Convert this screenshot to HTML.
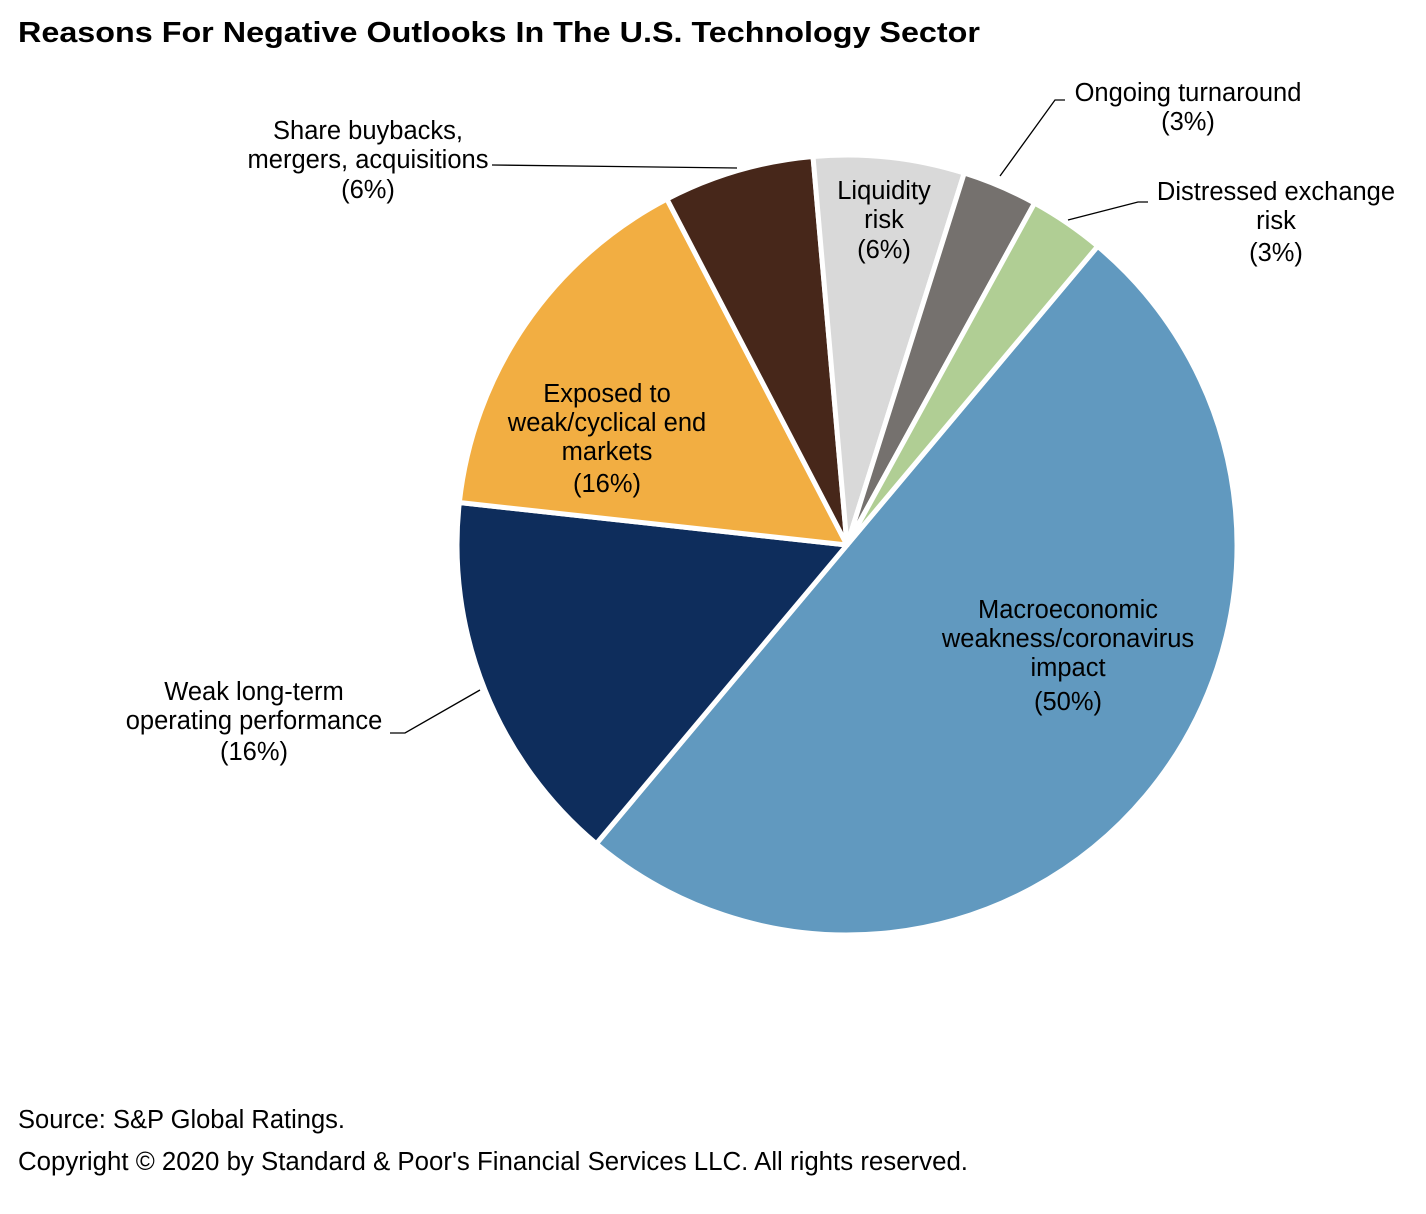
<!DOCTYPE html>
<html><head><meta charset="utf-8"><style>
html,body{margin:0;padding:0;background:#fff;}
svg{display:block;font-family:"Liberation Sans",Arial,sans-serif;}
</style></head><body>
<svg id="chart" width="1426" height="1214" viewBox="0 0 1426 1214">
<text x="18" y="42" font-size="29" font-weight="bold" textLength="962" lengthAdjust="spacingAndGlyphs">Reasons For Negative Outlooks In The U.S. Technology Sector</text>
<g id="slices"></g>
<g id="labels" font-size="25.5" text-anchor="middle" fill="#000">
<g><text x="368" y="139">Share buybacks,</text><text x="368" y="168">mergers, acquisitions</text><text x="368" y="198">(6%)</text></g>
<g><text x="884" y="199">Liquidity</text><text x="884" y="228">risk</text><text x="884" y="258">(6%)</text></g>
<g><text x="1188" y="101">Ongoing turnaround</text><text x="1188" y="130">(3%)</text></g>
<g><text x="1276" y="200">Distressed exchange</text><text x="1276" y="229">risk</text><text x="1276" y="261">(3%)</text></g>
<g><text x="607" y="402">Exposed to</text><text x="607" y="431">weak/cyclical end</text><text x="607" y="460">markets</text><text x="607" y="492">(16%)</text></g>
<g><text x="1068" y="618">Macroeconomic</text><text x="1068" y="647">weakness/coronavirus</text><text x="1068" y="676">impact</text><text x="1068" y="710">(50%)</text></g>
<g><text x="254" y="700">Weak long-term</text><text x="254" y="729">operating performance</text><text x="254" y="760">(16%)</text></g>
</g>
<g stroke="#000" stroke-width="1.3" fill="none">
<polyline points="492,165 737,168"/>
<polyline points="1065,100 1055,100 1000,176"/>
<polyline points="1148,202 1138,202 1068,220"/>
<polyline points="390,733 405,733 480,690"/>
</g>
<text x="18" y="1128" font-size="25.5">Source: S&amp;P Global Ratings.</text>
<text x="18" y="1170" font-size="25.5" textLength="950" lengthAdjust="spacingAndGlyphs">Copyright © 2020 by Standard &amp; Poor's Financial Services LLC. All rights reserved.</text>
</svg>
<script>
const categories = ["Macroeconomic weakness/coronavirus impact","Weak long-term operating performance","Exposed to weak/cyclical end markets","Share buybacks, mergers, acquisitions","Liquidity risk","Ongoing turnaround","Distressed exchange risk"];
const values = [50, 15.625, 15.625, 6.25, 6.25, 3.125, 3.125];
const colors = ["#6199bf","#0e2d5c","#f2ae42","#47271a","#d9d9d9","#75716e","#b0ce94"];
const sliceNames = ["slice-macroeconomic","slice-weak-long-term","slice-exposed","slice-share-buybacks","slice-liquidity","slice-ongoing-turnaround","slice-distressed-exchange"];
const cx = 847, cy = 545, r = 390, startDeg = 40;
const g = document.getElementById('slices');
const total = values.reduce((a,b)=>a+b,0);
function pt(deg){const a=deg*Math.PI/180;return [cx+r*Math.sin(a), cy-r*Math.cos(a)];}
let acc = startDeg;
values.forEach((v,i)=>{
  const sweep = v/total*360;
  const p0 = pt(acc), p1 = pt(acc+sweep);
  const large = sweep>180?1:0;
  const path = document.createElementNS('http://www.w3.org/2000/svg','path');
  path.setAttribute('d',`M${cx},${cy} L${p0[0]},${p0[1]} A${r},${r} 0 ${large} 1 ${p1[0]},${p1[1]} Z`);
  path.setAttribute('fill',colors[i]);
  path.setAttribute('stroke','#fff');
  path.setAttribute('stroke-width','5');
  path.setAttribute('stroke-linejoin','round');
  
  
  g.appendChild(path);
  acc += sweep;
});
</script>
</body></html>
